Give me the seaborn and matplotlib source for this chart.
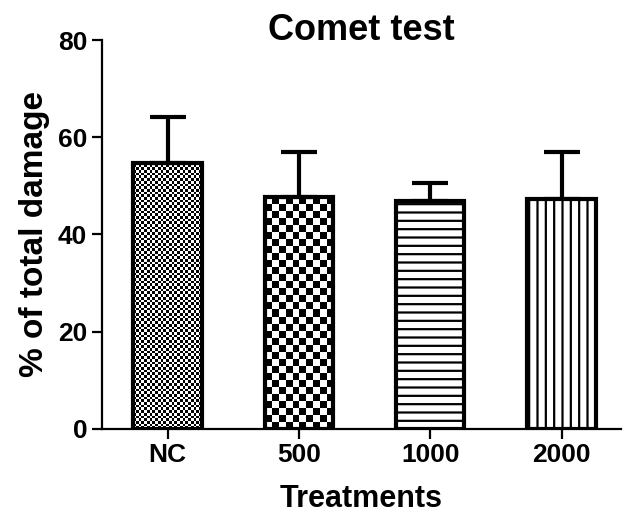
import numpy as np
import pandas as pd
import seaborn as sns
import matplotlib
matplotlib.use("Agg")
import matplotlib.pyplot as plt

# data
treatments = ["NC", "500", "1000", "2000"]
damage_mean = [54.8, 47.6, 46.8, 47.3]
damage_sd = [9.4, 9.4, 3.8, 9.6]

sns.set_theme(style="ticks")
plt.rcParams['font.family'] = ['Liberation Sans', 'DejaVu Sans']
plt.rcParams['font.weight'] = 'bold'
plt.rcParams['text.color'] = 'black'
plt.rcParams['axes.labelcolor'] = 'black'
plt.rcParams['hatch.linewidth'] = 1.6

df = pd.DataFrame({"Treatment": treatments, "Damage": damage_mean})

fig = plt.figure(figsize=(6.25, 5.13), dpi=100)
ax = fig.add_axes([0.163, 0.164, 0.83, 0.758])

sns.barplot(data=df, x="Treatment", y="Damage", color="white", width=0.52,
            edgecolor="black", linewidth=3, errorbar=None, ax=ax)

ax.set_xlim(-0.5, 3.45)
ax.set_ylim(0, 80)

patches = ax.patches
xs = [p.get_x() + p.get_width() / 2 for p in patches]
ax.errorbar(xs, damage_mean, yerr=[np.zeros(len(damage_sd)), damage_sd],
            fmt='none', ecolor='black', elinewidth=3, capsize=13, capthick=3, zorder=0.8)


def fill_checker(ax, patch, cell_px):
    # checkerboard image clipped to the bar
    x0, y0 = patch.get_x(), patch.get_y()
    x1, y1 = x0 + patch.get_width(), y0 + patch.get_height()
    (dx0, dy0), (dx1, dy1) = ax.transData.transform([(x0, y0), (x1, y1)])
    nx = max(1, int(round(abs(dx1 - dx0) / cell_px)))
    ny = max(1, int(round(abs(dy1 - dy0) / cell_px)))
    ii, jj = np.indices((ny, nx))
    board = (ii + jj) % 2
    im = ax.imshow(board, cmap="gray_r", extent=(x0, x1, y0, y1), aspect="auto",
                   interpolation="nearest", origin="lower", zorder=0.5)
    im.set_clip_path(patch)
    patch.set_facecolor("none")


fill_checker(ax, patches[0], 2.7)
fill_checker(ax, patches[1], 7.0)
patches[2].set_hatch("--")
patches[3].set_hatch("||")

ax.set_xlim(-0.5, 3.45)
ax.set_ylim(0, 80)
ax.set_yticks([0, 20, 40, 60, 80])

sns.despine(ax=ax)
for s in ["left", "bottom"]:
    ax.spines[s].set_linewidth(1.6)
    ax.spines[s].set_color("black")
ax.tick_params(axis="both", direction="out", length=7, width=1.6,
               labelsize=19, colors="black")
for lab in ax.get_xticklabels() + ax.get_yticklabels():
    lab.set_fontweight("bold")

ax.set_xlabel("Treatments", fontsize=22, fontweight="bold", labelpad=12)
ax.set_ylabel("% of total damage", fontsize=24, fontweight="bold", labelpad=6)
# fixed y so the title is not pushed up above the "80" tick label
ax.set_title("Comet test", fontsize=26, fontweight="bold", y=1.0, pad=0)

fig.savefig("out.png", dpi=100)
